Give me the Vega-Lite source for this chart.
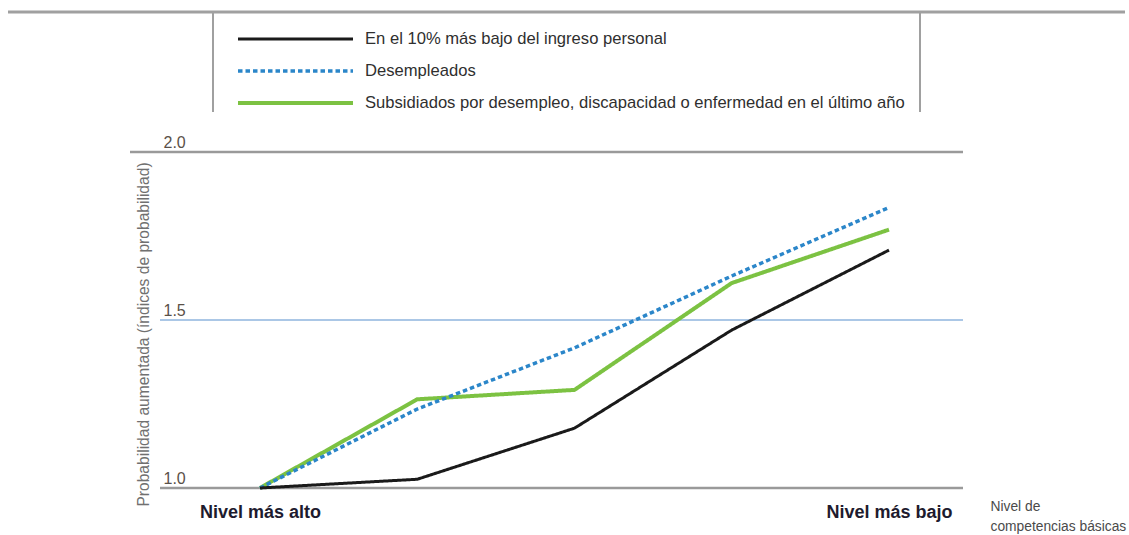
{
  "$schema": "https://vega.github.io/schema/vega-lite/v6.json",
  "width": 833,
  "height": 336,
  "autosize": {"type": "none"},
  "padding": {"left": 130, "top": 152, "right": 166, "bottom": 47},
  "background": "white",
  "config": {
    "view": {"stroke": null},
    "font": "Liberation Sans"
  },
  "layer": [
    {
      "data": {"values": [{}]},
      "mark": {"type": "rule", "color": "#9a9a9a", "strokeWidth": 2.5},
      "encoding": {
        "y": {"datum": 2, "type": "quantitative", "scale": {"domain": [1, 2], "nice": false, "zero": false}}
      }
    },
    {
      "data": {"values": [{}]},
      "mark": {"type": "rule", "color": "#abc7e6", "strokeWidth": 2},
      "encoding": {
        "y": {"datum": 1.5, "type": "quantitative", "scale": {"domain": [1, 2], "nice": false, "zero": false}},
        "x": {"datum": 0.3641, "type": "quantitative", "scale": {"domain": [0.1733, 5.4706], "nice": false, "zero": false}},
        "x2": {"datum": 5.4706}
      }
    },
    {
      "data": {"values": [{}]},
      "mark": {"type": "rule", "color": "#9a9a9a", "strokeWidth": 2.5},
      "encoding": {
        "y": {"datum": 1, "type": "quantitative", "scale": {"domain": [1, 2], "nice": false, "zero": false}},
        "x": {"datum": 0.3641, "type": "quantitative", "scale": {"domain": [0.1733, 5.4706], "nice": false, "zero": false}},
        "x2": {"datum": 5.4706}
      }
    },
    {
      "data": {"values": [{}]},
      "mark": {"type": "rule", "color": "#a0a0a0", "strokeWidth": 3, "clip": false},
      "encoding": {
        "y": {"datum": 2.4167, "type": "quantitative", "scale": {"domain": [1, 2], "nice": false, "zero": false}},
        "x": {"datum": -0.6025, "type": "quantitative", "scale": {"domain": [0.1733, 5.4706], "nice": false, "zero": false}},
        "x2": {"datum": 6.5008}
      }
    },
    {
      "data": {"values": [{}]},
      "mark": {"type": "rule", "color": "#a0a0a0", "strokeWidth": 2, "clip": false},
      "encoding": {
        "x": {"datum": 0.7011, "type": "quantitative", "scale": {"domain": [0.1733, 5.4706], "nice": false, "zero": false}},
        "y": {"datum": 2.4167, "type": "quantitative", "scale": {"domain": [1, 2], "nice": false, "zero": false}},
        "y2": {"datum": 2.119}
      }
    },
    {
      "data": {"values": [{}]},
      "mark": {"type": "rule", "color": "#a0a0a0", "strokeWidth": 2, "clip": false},
      "encoding": {
        "x": {"datum": 5.1971, "type": "quantitative", "scale": {"domain": [0.1733, 5.4706], "nice": false, "zero": false}},
        "y": {"datum": 2.4167, "type": "quantitative", "scale": {"domain": [1, 2], "nice": false, "zero": false}},
        "y2": {"datum": 2.119}
      }
    },
    {
      "data": {
        "values": [
          {"serie": "Subsidiados por desempleo, discapacidad o enfermedad en el último año", "nivel": 1, "valor": 1.0},
          {"serie": "Subsidiados por desempleo, discapacidad o enfermedad en el último año", "nivel": 2, "valor": 1.264},
          {"serie": "Subsidiados por desempleo, discapacidad o enfermedad en el último año", "nivel": 3, "valor": 1.292},
          {"serie": "Subsidiados por desempleo, discapacidad o enfermedad en el último año", "nivel": 4, "valor": 1.61},
          {"serie": "Subsidiados por desempleo, discapacidad o enfermedad en el último año", "nivel": 5, "valor": 1.769},
          {"serie": "Desempleados", "nivel": 1, "valor": 1.0},
          {"serie": "Desempleados", "nivel": 2, "valor": 1.235},
          {"serie": "Desempleados", "nivel": 3, "valor": 1.417},
          {"serie": "Desempleados", "nivel": 4, "valor": 1.631},
          {"serie": "Desempleados", "nivel": 5, "valor": 1.835},
          {"serie": "En el 10% más bajo del ingreso personal", "nivel": 1, "valor": 1.0},
          {"serie": "En el 10% más bajo del ingreso personal", "nivel": 2, "valor": 1.026},
          {"serie": "En el 10% más bajo del ingreso personal", "nivel": 3, "valor": 1.178},
          {"serie": "En el 10% más bajo del ingreso personal", "nivel": 4, "valor": 1.47},
          {"serie": "En el 10% más bajo del ingreso personal", "nivel": 5, "valor": 1.708}
        ]
      },
      "mark": {"type": "line", "strokeCap": "butt", "strokeJoin": "miter"},
      "encoding": {
        "x": {
          "field": "nivel", "type": "quantitative",
          "scale": {"domain": [0.1733, 5.4706], "nice": false, "zero": false},
          "axis": {
            "values": [1, 5],
            "labelExpr": "datum.value == 1 ? 'Nivel más alto' : 'Nivel más bajo'",
            "labelFontWeight": "bold",
            "labelFontSize": 18,
            "labelColor": "#1e1b2e",
            "labelFlush": false,
            "labelOverlap": false,
            "labelBaseline": "alphabetic",
            "labelPadding": 29,
            "domain": false,
            "ticks": false,
            "tickSize": 0,
            "grid": false,
            "title": ["Nivel de", "competencias básicas"],
            "titleX": 860,
            "titleY": 22,
            "titleAlign": "left",
            "titleAnchor": "start",
            "titleBaseline": "alphabetic",
            "titleLineHeight": 20,
            "titleFontSize": 13.8,
            "titleFontWeight": "normal",
            "titleColor": "#4a4a4a"
          }
        },
        "y": {
          "field": "valor", "type": "quantitative",
          "scale": {"domain": [1, 2], "nice": false, "zero": false},
          "axis": {
            "values": [1, 1.5, 2],
            "format": ".1f",
            "domain": false,
            "ticks": false,
            "tickSize": 0,
            "grid": false,
            "labelAlign": "left",
            "labelPadding": -33,
            "labelBaseline": "alphabetic",
            "labelOffset": -5,
            "labelFlush": false,
            "labelOverlap": false,
            "labelFontSize": 16,
            "labelColor": "#5a5048",
            "title": "Probabilidad aumentada (índices de probabilidad)",
            "titleX": 13,
            "titleY": 182,
            "titleAngle": -90,
            "titleAlign": "center",
            "titleBaseline": "middle",
            "titleFontSize": 15.6,
            "titleFontWeight": "normal",
            "titleColor": "#707070"
          }
        },
        "color": {
          "field": "serie", "type": "nominal",
          "scale": {
            "domain": ["En el 10% más bajo del ingreso personal", "Desempleados", "Subsidiados por desempleo, discapacidad o enfermedad en el último año"],
            "range": ["#1a1a1a", "#2b86c9", "#7cc242"]
          },
          "legend": {
            "title": null,
            "orient": "none",
            "legendX": 106,
            "legendY": -121,
            "padding": 0,
            "symbolType": "stroke",
            "symbolSize": 13225,
            "symbolStrokeWidth": 4,
            "clipHeight": 16,
            "rowPadding": 15,
            "labelOffset": 10,
            "labelFontSize": 16.6,
            "labelColor": "#2f2f2f",
            "labelLimit": 1000
          }
        },
        "strokeDash": {
          "field": "serie", "type": "nominal",
          "scale": {
            "domain": ["En el 10% más bajo del ingreso personal", "Desempleados", "Subsidiados por desempleo, discapacidad o enfermedad en el último año"],
            "range": [[1, 0], [4.5, 3], [1, 0]]
          },
          "legend": {
            "title": null,
            "orient": "none",
            "legendX": 106,
            "legendY": -121,
            "padding": 0,
            "symbolType": "stroke",
            "symbolSize": 13225,
            "symbolStrokeWidth": 4,
            "clipHeight": 16,
            "rowPadding": 15,
            "labelOffset": 10,
            "labelFontSize": 16.6,
            "labelColor": "#2f2f2f",
            "labelLimit": 1000
          }
        },
        "strokeWidth": {
          "field": "serie", "type": "nominal",
          "scale": {
            "domain": ["En el 10% más bajo del ingreso personal", "Desempleados", "Subsidiados por desempleo, discapacidad o enfermedad en el último año"],
            "range": [3, 4, 4]
          },
          "legend": null
        }
      }
    }
  ]
}
